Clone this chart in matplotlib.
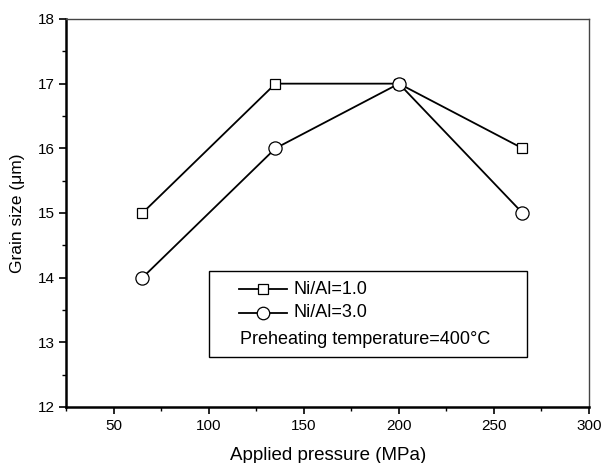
import matplotlib
matplotlib.use("Agg")
import matplotlib.pyplot as plt
from matplotlib.patches import Rectangle
from matplotlib.ticker import MultipleLocator

plt.rcParams['font.family'] = ['Liberation Sans', 'DejaVu Sans']

# data
pressure = [65, 135, 200, 265]
grain_ni1 = [15, 17, 17, 16]
grain_ni3 = [14, 16, 17, 15]
labels = ["Ni/Al=1.0", "Ni/Al=3.0"]
note = "Preheating temperature=400\u00b0C"

fig, ax = plt.subplots(figsize=(6.01, 4.63), dpi=100)
fig.subplots_adjust(left=0.1106, right=0.980, top=0.959, bottom=0.121)

ax.plot(pressure, grain_ni1, color="black", lw=1.3, marker="s", ms=7.5,
        mfc="white", mec="black", mew=0.9, zorder=3)
ax.plot(pressure, grain_ni3, color="black", lw=1.3, marker="o", ms=9.5,
        mfc="white", mec="black", mew=0.9, zorder=3)

ax.set_xlim(25, 300)
ax.set_ylim(12, 18)
ax.xaxis.set_major_locator(MultipleLocator(50))
ax.xaxis.set_minor_locator(MultipleLocator(25))
ax.yaxis.set_major_locator(MultipleLocator(1))
ax.yaxis.set_minor_locator(MultipleLocator(0.5))
ax.tick_params(which="major", direction="out", length=5, width=1.2, labelsize=11)
ax.tick_params(which="minor", direction="out", length=3, width=1.0)
ax.tick_params(top=False, right=False, which="both")
ax.xaxis.set_major_formatter(matplotlib.ticker.FormatStrFormatter("%d"))

for side in ["left", "bottom"]:
    ax.spines[side].set_linewidth(1.8)
for side in ["top", "right"]:
    ax.spines[side].set_linewidth(1.0)
    ax.spines[side].set_color("#444444")

ax.set_xlabel("Applied pressure (MPa)", fontsize=13.5, labelpad=10)
ax.set_ylabel("Grain size (\u03bcm)", fontsize=12.5, labelpad=9)

# hand-made legend box
ax.add_patch(Rectangle((0.273, 0.129), 0.608, 0.222, transform=ax.transAxes,
                       facecolor="white", edgecolor="black", lw=1.0, zorder=4))
rows = [0.303, 0.243]
for y, mk, ms, lab in zip(rows, ["s", "o"], [7, 9], labels):
    ax.plot([0.330, 0.423], [y, y], color="black", lw=1.3, transform=ax.transAxes,
            zorder=5, clip_on=False)
    ax.plot([0.377], [y], marker=mk, ms=ms, mfc="white", mec="black", mew=0.9,
            transform=ax.transAxes, zorder=6, clip_on=False)
    ax.text(0.434, y, lab, transform=ax.transAxes, va="center", ha="left",
            fontsize=13, zorder=6)
ax.text(0.332, 0.174, note, transform=ax.transAxes, va="center", ha="left",
        fontsize=13, zorder=6)

fig.savefig("out.png", dpi=100)
